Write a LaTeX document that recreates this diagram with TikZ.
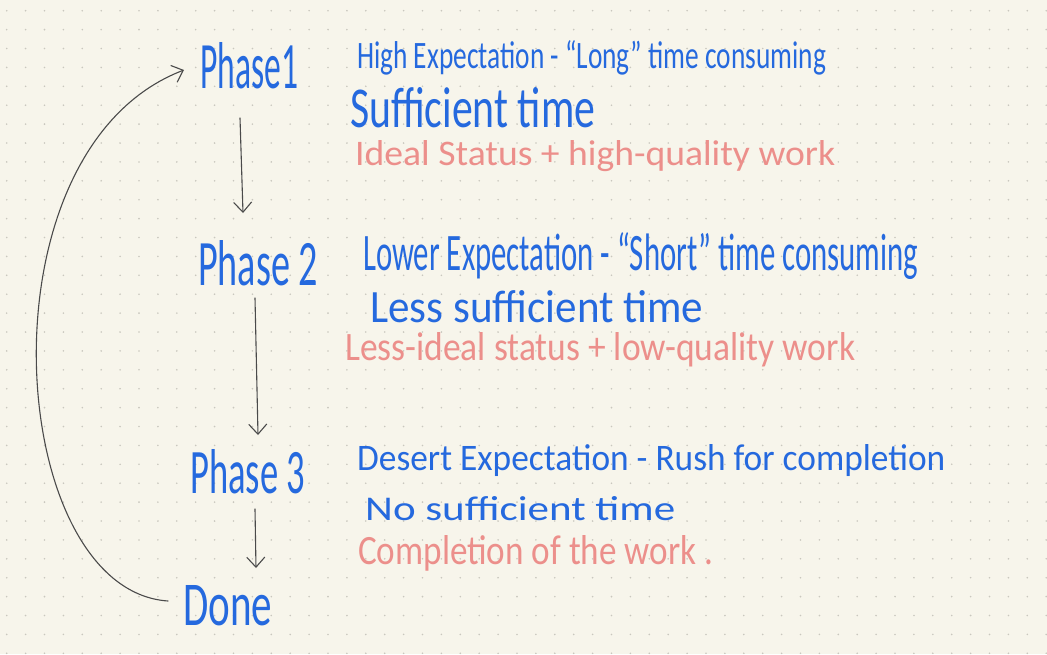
\documentclass[tikz,border=0pt]{standalone}
\usepackage{fontspec}
\setmainfont{Carlito}
\usetikzlibrary{arrows.meta}
\definecolor{paper}{HTML}{F7F5EB}
\definecolor{dotc}{HTML}{C9C7BE}
\definecolor{ink}{HTML}{2569DE}
\definecolor{pinkink}{HTML}{EC8F8B}
\definecolor{pencil}{HTML}{4A4A4A}
\newcommand{\hw}[3]{\resizebox{#1pt}{#2pt}{#3}}
\tikzset{
  txt/.style={inner sep=0pt, anchor=base west, text=ink},
  pk/.style={inner sep=0pt, anchor=base west, text=pinkink},
  arr/.style={draw=pencil, line width=1.1pt, line cap=round, -{Straight Barb[length=10pt,width=18pt]}},
}
\begin{document}
\begin{tikzpicture}[x=1pt,y=-1pt]
\fill[paper] (0,0) rectangle (1047,654);
\useasboundingbox (0,0) rectangle (1047,654);
\foreach \i in {0,...,55} {
  \foreach \j in {0,...,34} {
    \fill[dotc] ({6.7+18.9*\i},{10.7+18.9*\j}) circle (0.9);
  }
}
% Phase labels
\node[txt] (p1) at (200,88) {\hw{98}{46}{Phase1}};
\node[txt] (p2) at (198,285) {\hw{120}{45}{Phase 2}};
\node[txt] (p3) at (190,493) {\hw{115}{44}{Phase 3}};
\node[txt] (done) at (183,625) {\hw{89}{40}{Done}};
% Phase 1 text
\node[txt] (t1a) at (357,68) {\hw{469}{28}{High Expectation - ``Long'' time consuming}};
\node[txt] (t1b) at (350,127) {\hw{245}{40}{Sufficient time}};
\node[pk]  (t1c) at (355,165) {\hw{480}{25}{Ideal Status + high-quality work}};
% Phase 2 text
\node[txt] (t2a) at (363,270) {\hw{555}{38}{Lower Expectation - ``Short'' time consuming}};
\node[txt] (t2b) at (370,322) {\hw{333}{32}{Less sufficient time}};
\node[pk]  (t2c) at (345,360) {\hw{510}{28}{Less-ideal status + low-quality work}};
% Phase 3 text
\node[txt] (t3a) at (357,470) {\hw{588}{26}{Desert Expectation - Rush for completion}};
\node[txt] (t3b) at (365,520) {\hw{310}{24}{No sufficient time}};
\node[pk]  (t3c) at (358,564) {\hw{355}{29}{Completion of the work .}};
% arrows
\coordinate (a1s) at (240,118);
\coordinate (a1e) at (243,213);
\coordinate (a2s) at (255,298);
\coordinate (a2e) at (258,435);
\coordinate (a3s) at (255,509);
\coordinate (a3e) at (256,568);
\draw[arr] (a1s) -- (a1e);
\draw[arr] (a2s) -- (a2e);
\draw[arr] (a3s) -- (a3e);
\coordinate (cs) at (168,601);
\coordinate (ce) at (184,70);
\draw[arr] (cs) .. controls (5,590) and (-25,150) .. (ce);
\end{tikzpicture}
\end{document}
